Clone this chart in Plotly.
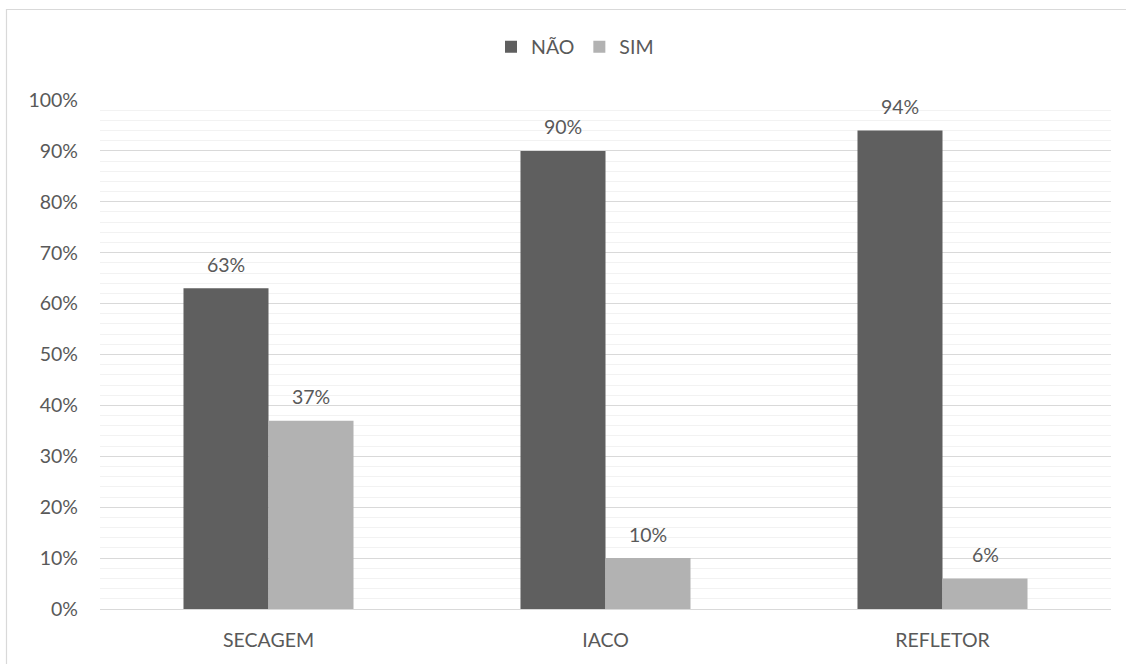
import plotly.graph_objects as go

categories = ["SECAGEM", "IACO", "REFLETOR"]
nao_values = [0.63, 0.90, 0.94]
sim_values = [0.37, 0.10, 0.06]
series_names = ["NÃO", "SIM"]
tick_vals = [0, 0.1, 0.2, 0.3, 0.4, 0.5, 0.6, 0.7, 0.8, 0.9, 1.0]
tick_text = ["0%", "10%", "20%", "30%", "40%", "50%", "60%", "70%", "80%", "90%", "100%"]

colors = ["#5f5f5f", "#b2b2b2"]
font_family = "Lato, 'Open Sans', sans-serif"
text_color = "#595959"
fs = 19.5

W, H = 1126, 664
ml, mr, mt, mb = 100, 15, 100, 55
pw, ph = W - ml - mr, H - mt - mb

fig = go.Figure()
for name, vals, col in zip(series_names, [nao_values, sim_values], colors):
    fig.add_trace(go.Bar(x=categories, y=vals, name=name, marker=dict(color=col, line=dict(width=0))))

annotations = []
for vals, shift in [(nao_values, -42.5), (sim_values, 42.5)]:
    for c, v in zip(categories, vals):
        annotations.append(dict(x=c, y=v, xref="x", yref="y", text=f"{round(v*100)}%",
                                showarrow=False, xshift=shift, yshift=24, yanchor="middle",
                                font=dict(size=fs, color=text_color, family=font_family)))

fig.update_layout(
    width=W, height=H,
    margin=dict(l=ml, r=mr, t=mt, b=mb),
    paper_bgcolor="white", plot_bgcolor="white",
    barmode="group", bargap=0.4955, bargroupgap=0,
    font=dict(family=font_family, size=fs, color=text_color),
    legend=dict(orientation="h", x=(575 - ml) / pw, xanchor="center", y=1 + 53 / ph, yanchor="middle",
                font=dict(size=fs, color=text_color), traceorder="normal", itemwidth=30),
    annotations=annotations,
    shapes=[dict(type="rect", xref="paper", yref="paper",
                 x0=(6.5 - ml) / pw, x1=(W + 20 - ml) / pw,
                 y0=-(H + 20 - mt - ph) / ph, y1=1 + (mt - 9.5) / ph,
                 line=dict(color="#d9d9d9", width=1.2), layer="below")],
)
fig.update_yaxes(range=[0, 1.0], tickvals=tick_vals, ticktext=tick_text,
                 showgrid=True, gridcolor="#d9d9d9", gridwidth=1,
                 minor=dict(dtick=0.02, showgrid=True, gridcolor="#f2f2f2", gridwidth=1),
                 zeroline=False, showline=False, ticks="", ticklabelstandoff=21,
                 tickfont=dict(size=fs, color=text_color))
fig.update_xaxes(showgrid=False, showline=True, linecolor="#d9d9d9", linewidth=1,
                 ticks="", ticklabelstandoff=14, tickfont=dict(size=fs, color=text_color))

fig.write_html("out.html")
